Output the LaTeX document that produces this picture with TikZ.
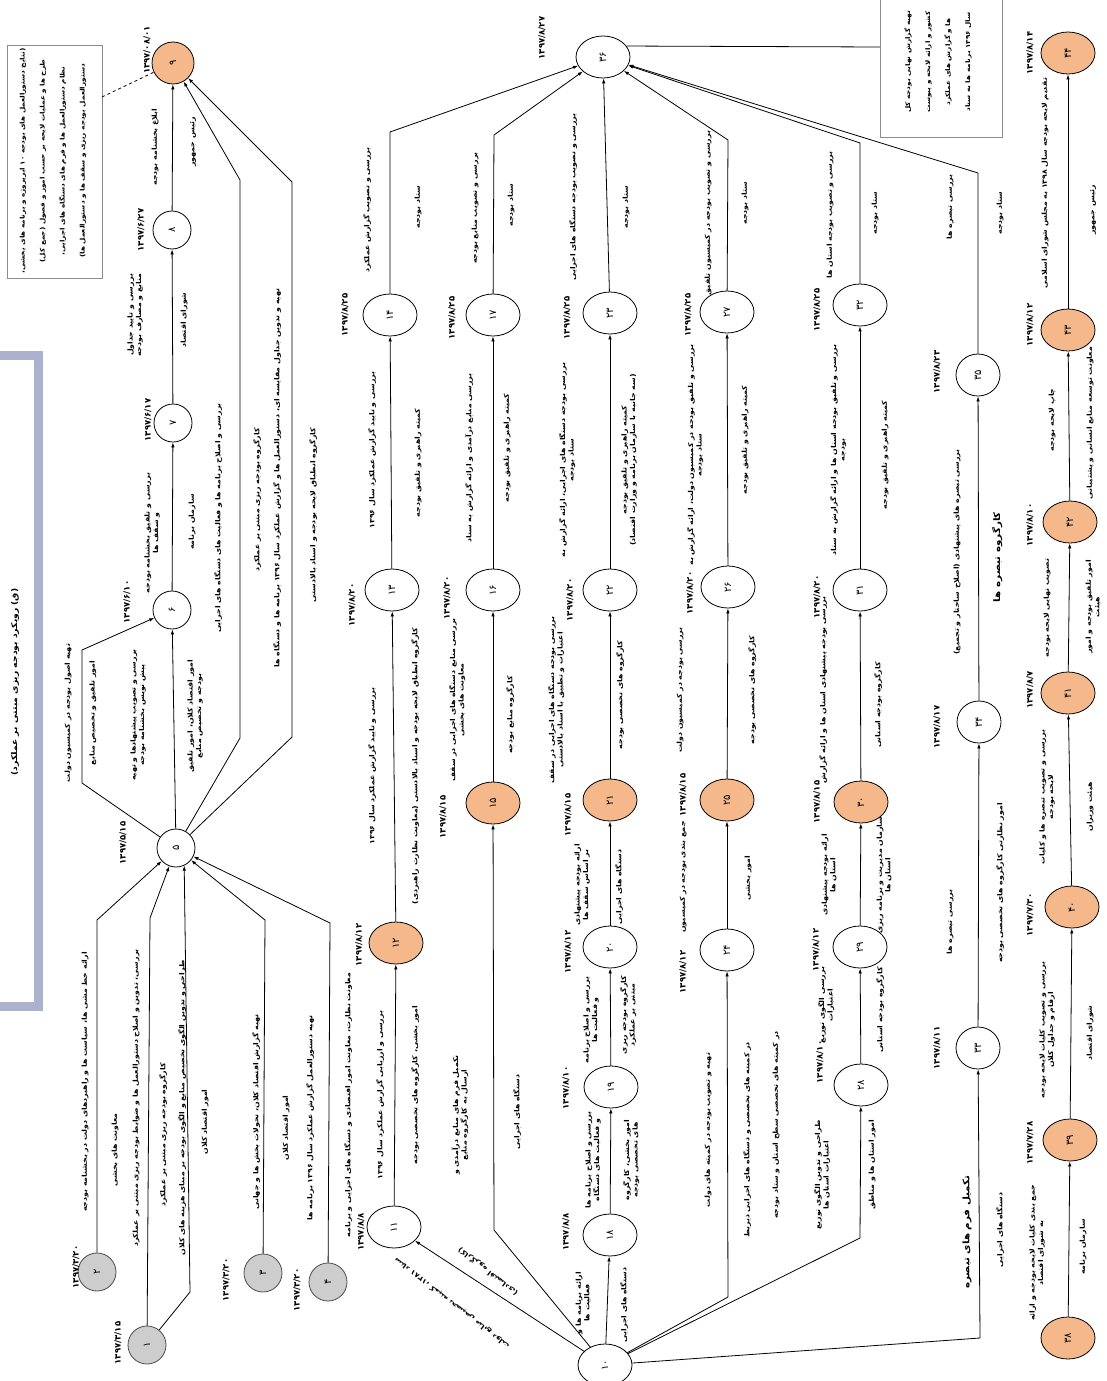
\documentclass[tikz,border=0pt]{standalone}
\usepackage{fontspec}
\usepackage{graphicx}
\usetikzlibrary{shapes.geometric,arrows.meta}
\TeXXeTstate=1
\newfontfamily\arabicfont[Script=Arabic,FakeStretch=1.15]{DejaVu Sans}
\newfontfamily\digitfont{DejaVu Sans}
\newcommand{\fa}[1]{\beginR #1\endR}
\newcommand{\lblfont}{\arabicfont\bfseries\fontsize{6.8}{8.5}\selectfont}
\newcommand{\bigfont}{\arabicfont\bfseries\fontsize{9}{10}\selectfont}
\newcommand{\dtfont}{\digitfont\bfseries\fontsize{8.5}{10}\selectfont}
\newcommand{\nn}[1]{\rotatebox{90}{\digitfont\fontsize{10}{11}\selectfont #1}}
\definecolor{orgc}{RGB}{245,184,138}
\definecolor{gryc}{RGB}{205,205,205}
\definecolor{framec}{RGB}{172,178,205}
\tikzset{
 gn/.style={ellipse, draw, line width=0.8pt, minimum width=54pt, minimum height=42pt, inner sep=0pt, fill=white},
 fn/.style={ellipse, draw, line width=0.8pt, minimum width=44pt, minimum height=42pt, inner sep=0pt, fill=white},
 cn/.style={circle, draw, line width=0.8pt, minimum size=38pt, inner sep=0pt, fill=white},
 org/.style={fill=orgc},
 gry/.style={fill=gryc, draw=black!70},
 lbl/.style={rotate=90, font=\lblfont, align=center, inner sep=1pt},
 dt/.style={rotate=90, font=\dtfont, inner sep=1pt},
 arr/.style={draw, line width=0.8pt, -{Latex[length=5pt,width=3.5pt]}},
 ln/.style={draw, line width=0.8pt},
}
\begin{document}
\begin{tikzpicture}[x=1pt,y=-1pt]
\useasboundingbox (0,0) rectangle (1107,1381);
\fill[white] (0,0) rectangle (1107,1381);
% title frame
\draw[framec, line width=9pt] (-20,355) rectangle (38,1006);
\node[lbl, font=\arabicfont\bfseries\fontsize{8}{9}\selectfont] (title) at (15,682) {\fa{(ق) رویکرد بودجه ریزی مبتنی بر عملکرد)}};

% ---------- left group nodes
\node[cn,org,minimum size=42pt] (n9) at (173,63) {\nn{۹}};
\node[cn] (n8) at (172,230) {\nn{۸}};
\node[cn] (n7) at (173,423) {\nn{۷}};
\node[cn] (n6) at (172,610) {\nn{۶}};
\node[cn] (n5) at (176,848) {\nn{۵}};
\node[cn,gry] (n2) at (97,1272) {\nn{۲}};
\node[cn,gry] (n1) at (147,1345) {\nn{۱}};
\node[cn,gry] (n3) at (263,1273) {\nn{۳}};
\node[cn,gry] (n4) at (328,1282) {\nn{۴}};

% notes
\node[draw=black!45, line width=0.6pt, minimum width=95pt, minimum height=233pt, inner sep=0pt] (noteL) at (54.5,161.5) {};
\node[lbl, font=\arabicfont\bfseries\fontsize{6.3}{20}\selectfont] (noteLt) at (53,161) {\fa{(نتایج دستورالعمل های بودجه ۱۰ ابرپروژه و برنامه های بخشی،}\\\fa{طرح ها و عملیات لایحه بر حسب امور و فصول (جمع کل)}\\\fa{نظام دستورالعمل ها و فرم های دستگاه های اجرایی،}\\\fa{دستورالعمل بودجه ریزی و سقف ها و دستورالعمل ها)}};
\coordinate (nl) at (102,97);
\draw[ln,dashed] (nl) -- (n9);

\node[draw=black!45, line width=0.6pt, minimum width=122pt, minimum height=154pt, inner sep=0pt] (noteR) at (941,60) {};
\node[lbl, font=\arabicfont\bfseries\fontsize{6.3}{20}\selectfont] (noteRt) at (938,62) {\fa{تهیه گزارش نهایی بودجه کل}\\\fa{کشور و ارائه لایحه و پیوست}\\\fa{ها و گزارش های عملکرد}\\\fa{سال ۱۳۹۶ برنامه ها به ستاد}};

% ---------- left group edges
\coordinate (b2) at (97,920);
\draw[arr] (n2) -- (b2) -- (n5);
\coordinate (b1a) at (150,918);
\draw[arr] (n1) -- (b1a) -- (n5);
\coordinate (b1b) at (190,1292);
\draw[arr] (n1) -- (b1b) -- (n5.-65);
\coordinate (b3) at (265,920);
\draw[arr] (n3) -- (b3) -- (n5);
\coordinate (b4) at (330,923);
\draw[arr] (n4) -- (b4) -- (n5);
\draw[arr] (n5) -- (n6);
\coordinate (b56a) at (82,783);
\coordinate (b56b) at (82,650);
\draw[arr] (n5) -- (b56a) -- (b56b) -- (n6);
\draw[arr] (n6) -- (n7);
\draw[arr] (n7) -- (n8);
\draw[arr] (n8) -- (n9);
\coordinate (b59a) at (240,738);
\coordinate (b59b) at (240,180);
\draw[arr] (n5) -- (b59a) -- (b59b) -- (n9);
\coordinate (b59c) at (292,737);
\coordinate (b59d) at (292,182);
\draw[arr] (n5) -- (b59c) -- (b59d) -- (n9);

% ---------- left group labels
\node[lbl] (lA1) at (85,1082) {\fa{ارائه خط مشی ها، سیاست ها و راهبردهای دولت در بخشنامه بودجه}};
\node[lbl] (lA2) at (115,1150) {\fa{معاونت های بخشی}};
\node[lbl] (lA3) at (136,1098) {\fa{بررسی، تدوین و اصلاح دستورالعمل ها و ضوابط بودجه ریزی مبتنی بر عملکرد}};
\node[lbl] (lA4) at (163,1135) {\fa{کارگروه بودجه ریزی مبتنی بر عملکرد}};
\node[lbl] (lA5) at (182,1108) {\fa{طراحی و تدوین الگوی تخصیص منابع و الگوی بودجه بر مبنای هزینه های کلان}};
\node[lbl] (lA6) at (205,1122) {\fa{امور اقتصاد کلان}};
\node[lbl] (lA7) at (256,1112) {\fa{تهیه گزارش اقتصاد کلان، تحولات بخش ها و جهانی}};
\node[lbl] (lA8) at (286,1128) {\fa{امور اقتصاد کلان}};
\node[lbl] (lA9) at (310,1118) {\fa{تهیه دستورالعمل گزارش عملکرد سال ۱۳۹۶ برنامه ها}};
\node[lbl] (lB1) at (68,713) {\fa{تهیه اصول بودجه در کمیسیون دولت}};
\node[lbl] (lB2) at (93,713) {\fa{امور تلفیق و تخصیص منابع}};
\node[lbl] (lB3) at (138,715) {\fa{بررسی و تصویب پیشنهادها و تهیه}\\\fa{پیش نویس بخشنامه بودجه}};
\node[lbl] (lB4) at (195,716) {\fa{امور اقتصاد کلان، امور تلفیق}\\\fa{بودجه و تخصیص منابع}};
\node[lbl] (lC1) at (218,518) {\fa{بررسی و اصلاح برنامه ها و فعالیت های دستگاه های اجرایی}};
\node[lbl] (lC2) at (257,500) {\fa{کارگروه بودجه ریزی مبتنی بر عملکرد}};
\node[lbl] (lC3) at (277,478) {\fa{تهیه و تدوین جداول مقایسه ای، دستورالعمل ها و گزارش عملکرد سال ۱۳۹۶ برنامه ها و دستگاه ها}};
\node[lbl] (lC4) at (313,515) {\fa{کارگروه انطباق لایحه بودجه و اسناد بالادستی}};
\node[lbl] (lD1) at (152,533) {\fa{بررسی و تلفیق بخشنامه بودجه}\\\fa{و سقف ها}};
\node[lbl] (lD2) at (192,522) {\fa{سازمان برنامه}};
\node[lbl] (lD3) at (135,315) {\fa{بررسی و تایید جداول}\\\fa{منابع و مصارف بودجه}};
\node[lbl] (lD4) at (184,320) {\fa{شورای اقتصاد}};
\node[lbl] (lD5) at (155,147) {\fa{ابلاغ بخشنامه بودجه}};
\node[lbl] (lD6) at (193,142) {\fa{رئیس جمهور}};
\node[dt] (d9) at (147,50) {۱۳۹۷/۰۸/۰۱};
\node[dt] (d8) at (141,230) {۱۳۹۷/۶/۲۷};
\node[dt] (d7) at (148,420) {۱۳۹۷/۶/۱۷};
\node[dt] (d6) at (127,602) {۱۳۹۷/۶/۱۰};
\node[dt] (d5) at (123,843) {۱۳۹۷/۵/۱۵};
\node[dt] (d2) at (76,1267) {۱۳۹۷/۳/۲۰};
\node[dt] (d1) at (118,1343) {۱۳۹۷/۳/۱۵};
\node[dt] (d3) at (226,1280) {۱۳۹۷/۳/۲۰};
\node[dt] (d4) at (297,1290) {۱۳۹۷/۳/۲۰};

% ---------- grid nodes
\node[gn] (n36) at (603,57) {\nn{۳۶}};
\node[gn] (n14) at (390,315) {\nn{۱۴}};
\node[gn] (n13) at (392,590) {\nn{۱۳}};
\node[gn,org] (n12) at (396,943) {\nn{۱۲}};
\node[gn] (n11) at (394,1227) {\nn{۱۱}};
\node[gn] (n17) at (493,315) {\nn{۱۷}};
\node[gn] (n16) at (493,590) {\nn{۱۶}};
\node[gn,org] (n15) at (493,803) {\nn{۱۵}};
\node[gn] (n23) at (610,313) {\nn{۲۳}};
\node[gn] (n22) at (610,590) {\nn{۲۲}};
\node[gn,org] (n21) at (610,800) {\nn{۲۱}};
\node[gn] (n20) at (610,947) {\nn{۲۰}};
\node[gn] (n19) at (611,1087) {\nn{۱۹}};
\node[gn] (n18) at (610,1235) {\nn{۱۸}};
\node[gn] (n27) at (727,312) {\nn{۲۷}};
\node[gn] (n26) at (728,587) {\nn{۲۶}};
\node[gn,org] (n25) at (727,800) {\nn{۲۵}};
\node[gn] (n24) at (727,950) {\nn{۲۴}};
\node[gn] (n32) at (860,305) {\nn{۳۲}};
\node[gn] (n31) at (860,590) {\nn{۳۱}};
\node[gn,org] (n30) at (861,802) {\nn{۳۰}};
\node[gn] (n29) at (860,947) {\nn{۲۹}};
\node[gn] (n28) at (861,1085) {\nn{۲۸}};
\node[fn] (n35) at (978,375) {\nn{۳۵}};
\node[fn] (n34) at (979,722) {\nn{۳۴}};
\node[fn] (n33) at (978,1048) {\nn{۳۳}};
\node[gn,org] (n44) at (1068,53) {\nn{۴۴}};
\node[gn,org] (n43) at (1068,330) {\nn{۴۳}};
\node[gn,org] (n42) at (1070,522) {\nn{۴۲}};
\node[gn,org] (n41) at (1068,693) {\nn{۴۱}};
\node[gn,org] (n40) at (1072,907) {\nn{۴۰}};
\node[gn,org] (n39) at (1070,1140) {\nn{۳۹}};
\node[gn,org] (n38) at (1068,1338) {\nn{۳۸}};
\node[gn] (n10) at (605,1365) {\nn{۱۰}};

% ---------- grid edges
\draw[arr] (n10) -- (n11);
\draw[arr] (n11) -- (n12);
\draw[arr] (n12) -- (n13);
\draw[arr] (n13) -- (n14);
\coordinate (b14) at (390,132);
\draw[arr] (n14) -- (b14) -- (n36);
\coordinate (b15) at (494,1230);
\draw[arr] (n10) -- (b15) -- (n15);
\draw[arr] (n15) -- (n16);
\draw[arr] (n16) -- (n17);
\coordinate (b17) at (494,135);
\draw[arr] (n17) -- (b17) -- (n36);
\draw[arr] (n10) -- (n18);
\draw[arr] (n18) -- (n19);
\draw[arr] (n19) -- (n20);
\draw[arr] (n20) -- (n21);
\draw[arr] (n21) -- (n22);
\draw[arr] (n22) -- (n23);
\draw[arr] (n23) -- (n36);
\coordinate (b24) at (728,1297);
\draw[arr] (n10) -- (b24) -- (n24);
\draw[arr] (n24) -- (n25);
\draw[arr] (n25) -- (n26);
\draw[arr] (n26) -- (n27);
\coordinate (b27) at (728,140);
\draw[arr] (n27) -- (b27) -- (n36);
\coordinate (b28) at (860,1238);
\draw[arr] (n10) -- (b28) -- (n28);
\draw[arr] (n28) -- (n29);
\draw[arr] (n29) -- (n30);
\draw[arr] (n30) -- (n31);
\draw[arr] (n31) -- (n32);
\coordinate (b32) at (860,143);
\draw[arr] (n32) -- (b32) -- (n36);
\coordinate (b33) at (980,1338);
\draw[arr] (n10) -- (b33) -- (n33);
\draw[arr] (n33) -- (n34);
\draw[arr] (n34) -- (n35);
\coordinate (b35) at (978,173);
\draw[arr] (n35) -- (b35) -- (n36);
\coordinate (nrin) at (880,47);
\draw[ln] (n36.25) -- (nrin);
\draw[arr] (n38) -- (n39);
\draw[arr] (n39) -- (n40);
\draw[arr] (n40) -- (n41);
\draw[arr] (n41) -- (n42);
\draw[arr] (n42) -- (n43);
\draw[arr] (n43) -- (n44);

% ---------- grid labels
\node[dt] (d36) at (542,38) {۱۳۹۷/۸/۲۷};
% col A
\node[lbl] (la1) at (367,210) {\fa{بررسی و تصویب گزارش عملکرد}};
\node[lbl] (la2) at (418,207) {\fa{ستاد بودجه}};
\node[lbl] (la3) at (372,450) {\fa{بررسی و تایید گزارش عملکرد سال ۱۳۹۶}};
\node[lbl] (la4) at (418,463) {\fa{کمیته راهبری و تلفیق بودجه}};
\node[lbl] (la5) at (372,766) {\fa{بررسی و تایید گزارش عملکرد سال ۱۳۹۶}};
\node[lbl] (la6) at (415,766) {\fa{کارگروه انطباق لایحه بودجه و اسناد بالادستی (معاونت نظارت راهبردی)}};
\node[lbl] (la7) at (380,1095) {\fa{بررسی و ارزیابی گزارش عملکرد سال ۱۳۹۶}};
\node[lbl] (la8) at (348,1105) {\fa{معاونت نظارت، معاونت امور اقتصادی و دستگاه های اجرایی و برنامه}};
\node[lbl] (la9) at (415,1085) {\fa{امور بخشی، کارگروه های تخصصی بودجه}};
\node[dt] (d14) at (345,315) {۱۳۹۷/۸/۲۵};
\node[dt] (d13) at (352,605) {۱۳۹۷/۸/۲۰};
\node[dt] (d12) at (359,945) {۱۳۹۷/۸/۱۲};
\node[dt] (d11) at (361,1232) {۱۳۹۷/۸/۸};
% col B
\node[lbl] (lb1) at (475,208) {\fa{بررسی و تصویب منابع بودجه}};
\node[lbl] (lb2) at (511,205) {\fa{ستاد بودجه}};
\node[lbl] (lb3) at (469,458) {\fa{بررسی منابع درآمدی و ارائه گزارش به ستاد}};
\node[lbl] (lb4) at (507,448) {\fa{کمیته راهبری و تلفیق بودجه}};
\node[lbl] (lb5) at (457,700) {\fa{بررسی منابع دستگاه های اجرایی در سقف}\\\fa{معاونت های بخشی}};
\node[lbl] (lb6) at (510,715) {\fa{کارگروه منابع بودجه}};
\node[lbl] (lb7) at (460,1115) {\fa{تکمیل فرم های منابع درآمدی و}\\\fa{ارسال به کارگروه منابع}};
\node[lbl] (lb8) at (517,1112) {\fa{دستگاه های اجرایی}};
\node[dt] (d17) at (452,318) {۱۳۹۷/۸/۲۵};
\node[dt] (d16) at (447,598) {۱۳۹۷/۸/۲۰};
\node[dt] (d15) at (443,817) {۱۳۹۷/۸/۱۵};
% col C
\node[lbl] (lc1) at (573,197) {\fa{بررسی و تصویب بودجه دستگاه های اجرایی}};
\node[lbl] (lc2) at (626,207) {\fa{ستاد بودجه}};
\node[lbl] (lc3) at (567,460) {\fa{بررسی بودجه دستگاه های اجرایی، ارائه گزارش به}\\\fa{ستاد بودجه}};
\node[lbl] (lc4) at (629,460) {\fa{کمیته راهبری و تلفیق بودجه}\\\fa{(سه جانبه با سازمان برنامه و وزارت اقتصاد)}};
\node[lbl] (lc5) at (556,700) {\fa{بررسی بودجه دستگاه های اجرایی در سقف}\\\fa{اعتبارات و تطبیق با اسناد بالادستی}};
\node[lbl] (lc6) at (620,695) {\fa{کارگروه های تخصصی بودجه}};
\node[lbl] (lc7) at (582,885) {\fa{ارائه بودجه پیشنهادی}\\\fa{بر اساس سقف ها}};
\node[lbl] (lc8) at (619,887) {\fa{دستگاه های اجرایی}};
\node[lbl] (lc9) at (591,1020) {\fa{بررسی و اصلاح برنامه}\\\fa{و فعالیت ها}};
\node[lbl] (lc10) at (628,1015) {\fa{کارگروه بودجه ریزی}\\\fa{مبتنی بر عملکرد}};
\node[lbl] (lc11) at (593,1160) {\fa{بررسی و اصلاح برنامه ها}\\\fa{و فعالیت های دستگاه}};
\node[lbl] (lc12) at (631,1160) {\fa{امور بخشی، کارگروه}\\\fa{های تخصصی بودجه}};
\node[lbl] (lc13) at (583,1303) {\fa{ارائه برنامه ها و}\\\fa{فعالیت ها}};
\node[lbl] (lc14) at (624,1305) {\fa{دستگاه های اجرایی}};
\node[dt] (d23) at (567,318) {۱۳۹۷/۸/۲۵};
\node[dt] (d22) at (570,600) {۱۳۹۷/۸/۲۰};
\node[dt] (d21) at (568,815) {۱۳۹۷/۸/۱۵};
\node[dt] (d20) at (568,952) {۱۳۹۷/۸/۱۲};
\node[dt] (d19) at (566,1088) {۱۳۹۷/۸/۱۰};
\node[dt] (d18) at (566,1232) {۱۳۹۷/۸/۸};
% col D
\node[lbl] (ld1) at (708,213) {\fa{بررسی و تصویب بودجه در کمیسیون تلفیق}};
\node[lbl] (ld2) at (745,203) {\fa{ستاد بودجه}};
\node[lbl] (ld3) at (695,455) {\fa{بررسی و تلفیق بودجه در کمیسیون دولت، ارائه گزارش به}\\\fa{ستاد بودجه}};
\node[lbl] (ld4) at (745,440) {\fa{کمیته راهبری و تلفیق بودجه}};
\node[lbl] (ld5) at (680,690) {\fa{بررسی بودجه در کمیسیون دولت}};
\node[lbl] (ld6) at (752,690) {\fa{کارگروه های تخصصی بودجه}};
\node[lbl] (ld7) at (683,877) {\fa{جمع بندی بودجه در کمیسیون}};
\node[lbl] (ld8) at (748,878) {\fa{امور بخشی}};
\node[lbl] (ld9) at (708,1130) {\fa{تهیه و تصویب بودجه در کمیته های دولت}};
\node[lbl] (ld10) at (747,1140) {\fa{در کمیته های تخصصی و دستگاه های اجرایی ذیربط}};
\node[dt] (d27) at (688,315) {۱۳۹۷/۸/۲۵};
\node[dt] (d26) at (690,593) {۱۳۹۷/۸/۲۰};
\node[dt] (d25) at (683,795) {۱۳۹۷/۸/۱۵};
\node[dt] (d24) at (683,972) {۱۳۹۷/۸/۱۲};
% col E
\node[lbl] (le1) at (830,215) {\fa{بررسی و تصویب بودجه استان ها}};
\node[lbl] (le2) at (875,213) {\fa{ستاد بودجه}};
\node[lbl] (le3) at (838,450) {\fa{بررسی و تلفیق بودجه استان ها و ارائه گزارش به ستاد}\\\fa{بودجه}};
\node[lbl] (le4) at (885,455) {\fa{کمیته راهبری و تلفیق بودجه}};
\node[lbl] (le5) at (823,690) {\fa{بررسی بودجه پیشنهادی استان ها و ارائه گزارش}};
\node[lbl] (le6) at (878,705) {\fa{کارگروه بودجه استانی}};
\node[lbl] (le7) at (829,875) {\fa{ارائه بودجه پیشنهادی}\\\fa{استان ها}};
\node[lbl] (le8) at (884,875) {\fa{سازمان مدیریت و برنامه ریزی}\\\fa{استان ها}};
\node[lbl] (le9) at (826,1005) {\fa{بررسی الگوی توزیع}\\\fa{اعتبارات}};
\node[lbl] (le10) at (880,1010) {\fa{کارگروه بودجه استانی}};
\node[lbl] (le11) at (822,1175) {\fa{طراحی و تدوین الگوی توزیع}\\\fa{اعتبارات استان ها}};
\node[lbl] (le12) at (776,1125) {\fa{در کمیته های تخصصی سطح استان و ستاد بودجه}};
\node[lbl] (le13) at (872,1165) {\fa{امور استان ها و مناطق}};
\node[dt] (d32) at (817,310) {۱۳۹۷/۸/۲۵};
\node[dt] (d31) at (817,597) {۱۳۹۷/۸/۲۰};
\node[dt] (d30) at (817,802) {۱۳۹۷/۸/۱۵};
\node[dt] (d29) at (816,950) {۱۳۹۷/۸/۱۲};
\node[dt] (d28) at (820,1062) {۱۳۹۷/۸/۱۰};
% col F
\node[lbl] (lf1) at (950,207) {\fa{بررسی تبصره ها}};
\node[lbl] (lf2) at (1000,213) {\fa{ستاد بودجه}};
\node[lbl] (lf3) at (957,552) {\fa{بررسی تبصره های پیشنهادی (اصلاح ساختار و تجمیع)}};
\node[lbl,font=\bigfont] (lf4) at (997,557) {\fa{کارگروه تبصره ها}};
\node[lbl] (lf5) at (950,922) {\fa{بررسی تبصره ها}};
\node[lbl] (lf6) at (1000,883) {\fa{امور نظارتی کارگروه های تخصصی بودجه}};
\node[lbl,font=\bigfont] (lf7) at (967,1232) {\fa{تکمیل فرم های تبصره}};
\node[lbl] (lf8) at (1000,1230) {\fa{دستگاه های اجرایی}};
\node[dt] (d35) at (937,372) {۱۳۹۷/۸/۲۳};
\node[dt] (d34) at (937,727) {۱۳۹۷/۸/۱۷};
\node[dt] (d33) at (937,1048) {۱۳۹۷/۸/۱۱};
% row G
\node[lbl] (lg1) at (1045,183) {\fa{تقدیم لایحه بودجه سال ۱۳۹۸ به مجلس شورای اسلامی}};
\node[lbl] (lg2) at (1093,210) {\fa{رئیس جمهور}};
\node[lbl] (lg3) at (1052,420) {\fa{چاپ لایحه بودجه}};
\node[lbl] (lg4) at (1090,423) {\fa{معاونت توسعه منابع انسانی و پشتیبانی}};
\node[lbl] (lg5) at (1047,608) {\fa{تصویب نهایی لایحه بودجه}};
\node[lbl] (lg6) at (1093,607) {\fa{امور تلفیق بودجه و امور}\\\fa{هیئت}};
\node[lbl] (lg7) at (1047,797) {\fa{بررسی و تصویب تبصره ها و کلیات}\\\fa{لایحه بودجه}};
\node[lbl] (lg8) at (1090,807) {\fa{هیئت وزیران}};
\node[lbl] (lg9) at (1047,1030) {\fa{بررسی و تصویب کلیات لایحه بودجه}\\\fa{ارقام و جداول کلان}};
\node[lbl] (lg10) at (1090,1033) {\fa{شورای اقتصاد}};
\node[lbl] (lg11) at (1037,1253) {\fa{جمع بندی کلیات لایحه بودجه و ارائه}\\\fa{به شورای اقتصاد}};
\node[lbl] (lg12) at (1083,1247) {\fa{سازمان برنامه}};
\node[dt] (d44) at (1030,53) {۱۳۹۷/۸/۱۴};
\node[dt] (d43) at (1030,325) {۱۳۹۷/۸/۱۲};
\node[dt] (d42) at (1030,525) {۱۳۹۷/۸/۱۰};
\node[dt] (d41) at (1030,690) {۱۳۹۷/۸/۷};
\node[dt] (d40) at (1030,915) {۱۳۹۷/۷/۳۰};
\node[dt] (d39) at (1030,1143) {۱۳۹۷/۷/۲۸};
% slanted labels near node 10
\node[font=\lblfont, rotate=142, inner sep=1pt] (ls1) at (452,1303) {\fa{ستاد ۱۳۸۱، کمیته تخصیص منابع دولت}};
\node[font=\lblfont, rotate=142, inner sep=1pt] (ls2) at (488,1272) {\fa{(کارگروه اقتصادی)}};
\end{tikzpicture}
\end{document}
